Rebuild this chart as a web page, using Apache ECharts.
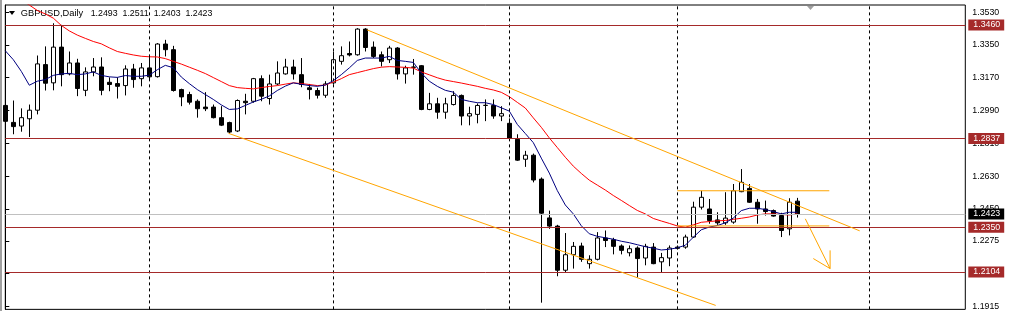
<!DOCTYPE html>
<html><head><meta charset="utf-8">
<script src="https://cdn.jsdelivr.net/npm/echarts@6/dist/echarts.min.js"></script>
<style>html,body{margin:0;padding:0;background:#fff}#c{width:1009px;height:311px}</style>
</head><body><div id="c"></div>
<script>
const symbolName = 'GBPUSD,Daily';
const opens = [
1.3018,1.2925,1.2905,1.2945,1.2992,1.3242,1.3142,1.3338,1.3191,1.3251,
1.3101,1.3202,1.3229,1.3145,1.3138,1.3127,1.3218,1.3165,1.3224,1.3176,
1.3355,1.3324,1.3105,1.3078,1.3041,1.3009,1.3009,1.2951,1.2924,1.2878,
1.3041,1.3041,1.3165,1.3056,1.3136,1.3191,1.3229,1.3187,1.3115,1.3100,
1.3074,1.3142,1.3260,1.3303,1.3296,1.3437,1.3338,1.3296,1.3269,1.3333,
1.3191,1.3229,1.3236,1.2996,1.3027,1.2981,1.3023,1.3073,1.2960,1.2969,
1.3018,1.3018,1.2960,1.2920,1.2832,1.2723,1.2745,1.2614,1.2401,1.2356,
1.2114,1.2199,1.2247,1.2150,1.2174,1.2291,1.2281,1.2247,1.2210,1.2236,
1.2181,1.2241,1.2160,1.2181,1.2241,1.2241,1.2296,1.2460,1.2450,1.2390,
1.2374,1.2378,1.2545,1.2563,1.2487,1.2450,1.2441,1.2414,1.2341,1.2493];
const highs = [
1.3051,1.3045,1.3002,1.3023,1.3292,1.3342,1.3469,1.3460,1.3314,1.3274,
1.3227,1.3278,1.3282,1.3172,1.3172,1.3238,1.3246,1.3251,1.3287,1.3360,
1.3378,1.3345,1.3110,1.3093,1.3051,1.3091,1.3023,1.3014,1.2929,1.3051,
1.3082,1.3169,1.3183,1.3187,1.3260,1.3274,1.3269,1.3278,1.3136,1.3115,
1.3151,1.3314,1.3342,1.3369,1.3442,1.3442,1.3369,1.3314,1.3345,1.3338,
1.3236,1.3273,1.3240,1.3087,1.3060,1.3060,1.3096,1.3078,1.3011,1.3029,
1.3051,1.3051,1.3014,1.2947,1.2860,1.2769,1.2754,1.2623,1.2441,1.2363,
1.2318,1.2269,1.2265,1.2196,1.2323,1.2332,1.2292,1.2256,1.2250,1.2245,
1.2259,1.2263,1.2209,1.2250,1.2250,1.2309,1.2490,1.2550,1.2505,1.2432,
1.2542,1.2587,1.2669,1.2587,1.2505,1.2496,1.2447,1.2429,1.2509,1.2511];
const lows = [
1.2832,1.2860,1.2874,1.2845,1.2969,1.3100,1.3101,1.3123,1.3183,1.3069,
1.3069,1.3178,1.3074,1.3096,1.3056,1.3073,1.3115,1.3123,1.3160,1.3171,
1.3287,1.3094,1.3014,1.3023,1.2951,1.2987,1.2947,1.2905,1.2864,1.2872,
1.2969,1.3033,1.3041,1.3023,1.3129,1.3187,1.3160,1.3118,1.3051,1.3056,
1.3060,1.3133,1.3242,1.3287,1.3291,1.3314,1.3278,1.3232,1.3251,1.3160,
1.3138,1.3187,1.2992,1.2992,1.2945,1.2945,1.3018,1.2909,1.2909,1.2920,
1.2932,1.2945,1.2932,1.2832,1.2714,1.2681,1.2596,1.1936,1.2341,1.2081,
1.2100,1.2123,1.2160,1.2123,1.2168,1.2241,1.2201,1.2201,1.2190,1.2074,
1.2141,1.2147,1.2100,1.2136,1.2228,1.2232,1.2291,1.2447,1.2369,1.2363,
1.2363,1.2369,1.2542,1.2483,1.2369,1.2414,1.2408,1.2296,1.2305,1.2403];
const closes = [
1.2931,1.2902,1.2951,1.2992,1.3246,1.3140,1.3338,1.3187,1.3251,1.3111,
1.3202,1.3229,1.3101,1.3133,1.3123,1.3218,1.3160,1.3224,1.3175,1.3355,
1.3324,1.3100,1.3065,1.3036,1.3000,1.3000,1.2951,1.2910,1.2872,1.3045,
1.3033,1.3165,1.3069,1.3136,1.3196,1.3229,1.3191,1.3133,1.3105,1.3074,
1.3136,1.3269,1.3291,1.3295,1.3437,1.3336,1.3287,1.3260,1.3333,1.3191,
1.3224,1.3227,1.2996,1.3027,1.2981,1.3027,1.3073,1.2960,1.2973,1.3018,
1.3019,1.2960,1.2973,1.2838,1.2718,1.2745,1.2609,1.2427,1.2356,1.2114,
1.2199,1.2245,1.2174,1.2174,1.2291,1.2277,1.2245,1.2223,1.2232,1.2178,
1.2245,1.2150,1.2183,1.2236,1.2234,1.2296,1.2460,1.2514,1.2387,1.2374,
1.2400,1.2550,1.2596,1.2487,1.2450,1.2436,1.2411,1.2332,1.2487,1.2423];
const maSlow = [
1.3651,1.3624,1.3596,1.3569,1.3539,1.3520,1.3497,1.3457,1.3427,1.3404,
1.3386,1.3369,1.3356,1.3334,1.3314,1.3304,1.3295,1.3288,1.3285,1.3284,
1.3275,1.3260,1.3245,1.3228,1.3211,1.3193,1.3171,1.3149,1.3127,1.3116,
1.3112,1.3109,1.3116,1.3122,1.3127,1.3135,1.3142,1.3138,1.3133,1.3127,
1.3130,1.3146,1.3165,1.3187,1.3198,1.3209,1.3220,1.3228,1.3231,1.3229,
1.3227,1.3223,1.3202,1.3186,1.3170,1.3157,1.3149,1.3141,1.3132,1.3123,
1.3112,1.3103,1.3090,1.3066,1.3035,1.3004,1.2950,1.2898,1.2840,1.2787,
1.2734,1.2685,1.2645,1.2608,1.2581,1.2554,1.2524,1.2497,1.2469,1.2442,
1.2423,1.2398,1.2384,1.2371,1.2357,1.2350,1.2363,1.2377,1.2381,1.2385,
1.2387,1.2393,1.2399,1.2406,1.2417,1.2423,1.2423,1.2420,1.2417,1.2423];
const maFast = [
1.3318,1.3269,1.3205,1.3129,1.3151,1.3160,1.3183,1.3191,1.3194,1.3187,
1.3191,1.3202,1.3183,1.3175,1.3172,1.3182,1.3178,1.3178,1.3184,1.3214,
1.3238,1.3225,1.3174,1.3138,1.3105,1.3078,1.3051,1.3021,1.2996,1.2999,
1.3018,1.3037,1.3052,1.3070,1.3100,1.3124,1.3142,1.3134,1.3127,1.3123,
1.3130,1.3154,1.3187,1.3224,1.3265,1.3278,1.3278,1.3278,1.3287,1.3265,
1.3260,1.3254,1.3196,1.3151,1.3123,1.3101,1.3091,1.3051,1.3041,1.3033,
1.3033,1.3023,1.3005,1.2987,1.2914,1.2864,1.2814,1.2729,1.2647,1.2551,
1.2472,1.2423,1.2358,1.2314,1.2300,1.2292,1.2284,1.2273,1.2265,1.2254,
1.2243,1.2235,1.2225,1.2229,1.2237,1.2251,1.2295,1.2336,1.2351,1.2359,
1.2374,1.2400,1.2441,1.2454,1.2454,1.2447,1.2436,1.2423,1.2432,1.2432];
const yTicks = [1.3530,1.3350,1.3170,1.2990,1.2810,1.2630,1.2450,1.2275,1.2095,1.1915];
const levels = [1.3460,1.2837,1.2350,1.2104];
const bidLevel = 1.2423;
const separators = [18,41,63,84,108];
const upperTrend = [[45.2,1.3433],[106.8,1.2330]];
const lowerTrend = [[27.9,1.2865],[88.8,1.1921]];
const rangeTop = [[84,1.2550],[103,1.2550]];
const rangeBottom = [[84,1.2357],[103,1.2357]];
const arrowShaft = [[100,1.2396],[103.1,1.2123]];
const arrowHead = [[101,1.2178],[103.1,1.2123],[103.1,1.2223]];
const totalSlots = 121;

const categories = [];
for (let i = 0; i < totalSlots; i++) categories.push(String(i));
const candles = opens.map((o, i) => [o, closes[i], lows[i], highs[i]]);
const header = [opens[99], highs[99], lows[99], closes[99]].map(v => v.toFixed(4)).join('  ');

const FONT = '"Liberation Sans", Arial, sans-serif';
const ORANGE = '#FFA500';
const LEVEL = '#A52A2A';

function lvlLabel(bg) {
  return { show: true, position: 'end', distance: 3, formatter: p => Number(p.value).toFixed(4),
    backgroundColor: bg, color: '#fff', fontSize: 8.8, fontFamily: FONT, padding: [1, 4, 0, 5], lineHeight: 10 };
}
const markData = [];
separators.forEach(s => markData.push({ xAxis: s, lineStyle: { color: '#000', type: [3, 3], width: 1 }, label: { show: false } }));
markData.push({ yAxis: bidLevel, lineStyle: { color: '#C0C0C0', type: 'solid', width: 1 }, label: lvlLabel('#000') });
levels.forEach(v => markData.push({ yAxis: v, lineStyle: { color: LEVEL, type: 'solid', width: 1 }, label: lvlLabel(LEVEL) }));

function orangeLine(data) {
  return { type: 'line', xAxisIndex: 1, yAxisIndex: 0, data, symbol: 'none', silent: true, z: 6,
    lineStyle: { color: ORANGE, width: 1 }, animation: false };
}

const chart = echarts.init(document.getElementById('c'), null, { renderer: 'canvas' });
chart.setOption({
  animation: false,
  backgroundColor: '#fff',
  grid: { left: 5.3, right: 43.7, top: 5, bottom: 0, show: true, borderColor: '#000', borderWidth: 1, backgroundColor: 'transparent' },
  xAxis: [
    { type: 'category', data: categories, boundaryGap: false, show: false },
    { type: 'value', min: 0, max: totalSlots - 1, show: false }
  ],
  yAxis: {
    type: 'value', position: 'right', min: 1.18993, max: 1.35691,
    splitLine: { show: false },
    axisLine: { show: true, lineStyle: { color: '#000', width: 1 } },
    axisTick: { show: true, customValues: yTicks, length: 4, lineStyle: { color: '#000' } },
    axisLabel: { customValues: yTicks, formatter: v => Number(v).toFixed(4), color: '#000', fontSize: 8.8, fontFamily: FONT, margin: 7 }
  },
  series: [
    { type: 'line', xAxisIndex: 1, yAxisIndex: 0, data: [], clip: false, z: 1, silent: true,
      markLine: { silent: true, precision: 4, symbol: ['none', 'none'], animation: false, data: markData } },
    { type: 'candlestick', xAxisIndex: 0, data: candles, barWidth: 4, z: 3,
      itemStyle: { color: '#fff', color0: '#000', borderColor: '#000', borderColor0: '#000', borderWidth: 1 } },
    { type: 'line', xAxisIndex: 0, data: maSlow, symbol: 'none', z: 4, lineStyle: { color: '#FF0000', width: 1 } },
    { type: 'line', xAxisIndex: 0, data: maFast, symbol: 'none', z: 4, lineStyle: { color: '#000080', width: 1 } },
    orangeLine(upperTrend), orangeLine(lowerTrend), orangeLine(rangeTop), orangeLine(rangeBottom),
    orangeLine(arrowShaft), orangeLine(arrowHead)
  ],
  graphic: [
    { type: 'rect', shape: { x: 0, y: 0, width: 2, height: 311 }, style: { fill: '#A0A0A0' }, silent: true },
    { type: 'polygon', shape: { points: [[9, 11], [15, 11], [12, 15]] }, style: { fill: '#000' }, silent: true },
    { type: 'text', x: 20.7, y: 13.5, style: { text: symbolName, font: '9.3px ' + FONT, fill: '#000', verticalAlign: 'middle' }, silent: true },
    { type: 'text', x: 90.7, y: 13.5, style: { text: header, font: '8.8px ' + FONT, fill: '#000', verticalAlign: 'middle' }, silent: true },
    { type: 'polygon', shape: { points: [[807, 6], [814, 6], [810.5, 10]] }, style: { fill: '#A0A0A0' }, silent: true }
  ]
});
</script></body></html>
